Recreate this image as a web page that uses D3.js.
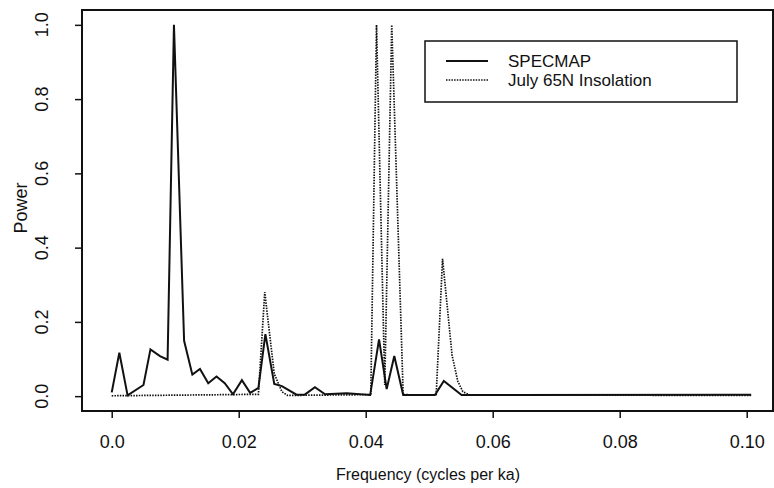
<!DOCTYPE html>
<html>
<head>
<meta charset="utf-8">
<script src="https://cdn.jsdelivr.net/npm/d3@7"></script>
<style>
  body { margin: 0; background: #fff; }
  text { font-family: "Liberation Sans", Arial, Helvetica, sans-serif; fill: #111; }
</style>
</head>
<body>
<svg id="chart" width="774" height="488"></svg>
<script>
// Data ////////////////////////////////////////////////////////////////////
// SPECMAP power spectrum (solid line)
const specmapFreq = [
  0.0000, 0.0012, 0.0025, 0.0050, 0.0061, 0.0076, 0.0088, 0.0098,
  0.0114, 0.0127, 0.0139, 0.0152, 0.0165, 0.0178, 0.0191, 0.0205,
  0.0218, 0.0231, 0.0242, 0.0256, 0.0268, 0.0291, 0.0304, 0.0320,
  0.0336, 0.0370, 0.0407, 0.0421, 0.0433, 0.0445, 0.0459, 0.0509,
  0.0523, 0.0551, 0.1007
];
const specmapPower = [
  0.010, 0.117, 0.002, 0.030, 0.126, 0.108, 0.098, 1.000,
  0.149, 0.058, 0.073, 0.035, 0.053, 0.035, 0.005, 0.043,
  0.009, 0.022, 0.167, 0.033, 0.027, 0.004, 0.004, 0.024,
  0.005, 0.008, 0.003, 0.153, 0.019, 0.108, 0.003, 0.003,
  0.041, 0.003, 0.004
];

// July 65N insolation power spectrum (dotted line)
const insolFreq = [
  0.0000, 0.0180, 0.0231, 0.0241, 0.0256, 0.0268, 0.0277, 0.0405,
  0.0408, 0.0417, 0.0430, 0.0441, 0.0459, 0.0508, 0.0511, 0.0521,
  0.0536, 0.0545, 0.0553, 0.0564, 0.1007
];
const insolPower = [
  0.001, 0.004, 0.005, 0.280, 0.060, 0.012, 0.002, 0.004,
  0.006, 1.000, 0.030, 1.000, 0.004, 0.003, 0.004, 0.370,
  0.110, 0.040, 0.012, 0.003, 0.002
];

// Axis ticks
const xTickValues = [0, 0.02, 0.04, 0.06, 0.08, 0.10];
const xTickLabels = ['0.0', '0.02', '0.04', '0.06', '0.08', '0.10'];
const yTickValues = [0, 0.2, 0.4, 0.6, 0.8, 1.0];
const yTickLabels = ['0.0', '0.2', '0.4', '0.6', '0.8', '1.0'];

const legendLabels = ['SPECMAP', 'July 65N Insolation'];

// Chart ///////////////////////////////////////////////////////////////////
const box = {left: 82, right: 773, top: 10, bottom: 411};
const svg = d3.select('#chart');

// R style: 4% padding around the data range
const x = d3.scaleLinear()
  .domain([-0.00468, 0.10414])
  .range([box.left, box.right]);
const y = d3.scaleLinear()
  .domain([-0.04, 1.04])
  .range([box.bottom, box.top]);

// x axis
const xAxis = svg.append('g')
  .attr('transform', `translate(0,${box.bottom})`)
  .call(d3.axisBottom(x)
    .tickValues(xTickValues)
    .tickFormat((d, i) => xTickLabels[i])
    .tickSize(7)
    .tickPadding(17));
xAxis.select('.domain').remove();
xAxis.selectAll('line').attr('stroke', '#111').attr('stroke-width', 1.5);
xAxis.selectAll('text')
  .attr('font-size', 18)
  .attr('font-family', '"Liberation Sans", Arial, sans-serif')
  .attr('fill', '#111');

// y axis (labels rotated like base R)
const yAxis = svg.append('g')
  .attr('transform', `translate(${box.left},0)`)
  .call(d3.axisLeft(y)
    .tickValues(yTickValues)
    .tickFormat('')
    .tickSize(7));
yAxis.select('.domain').remove();
yAxis.selectAll('line').attr('stroke', '#111').attr('stroke-width', 1.5);
svg.append('g').selectAll('text')
  .data(yTickValues)
  .enter().append('text')
  .attr('transform', (d, i) => `translate(48,${y(d)}) rotate(-90)`)
  .attr('text-anchor', 'middle')
  .attr('font-size', 18)
  .text((d, i) => yTickLabels[i]);

// axis titles
svg.append('text')
  .attr('x', 428)
  .attr('y', 480)
  .attr('text-anchor', 'middle')
  .attr('font-size', 16)
  .text('Frequency (cycles per ka)');
svg.append('text')
  .attr('transform', `translate(27,208) rotate(-90)`)
  .attr('text-anchor', 'middle')
  .attr('font-size', 18)
  .text('Power');

// lines
const line = d3.line()
  .x(d => x(d[0]))
  .y(d => y(d[1]));

svg.append('path')
  .datum(d3.zip(insolFreq, insolPower))
  .attr('fill', 'none')
  .attr('stroke', '#111')
  .attr('stroke-width', 1.7)
  .attr('stroke-dasharray', '1.5,1.2')
  .attr('d', line);

svg.append('path')
  .datum(d3.zip(specmapFreq, specmapPower))
  .attr('fill', 'none')
  .attr('stroke', '#111')
  .attr('stroke-width', 2)
  .attr('stroke-linejoin', 'miter')
  .attr('d', line);

// plot box
svg.append('rect')
  .attr('x', box.left)
  .attr('y', box.top)
  .attr('width', box.right - box.left)
  .attr('height', box.bottom - box.top)
  .attr('fill', 'none')
  .attr('stroke', '#111')
  .attr('stroke-width', 2);

// legend
const legend = svg.append('g');
legend.append('rect')
  .attr('x', 425).attr('y', 41)
  .attr('width', 312).attr('height', 61)
  .attr('fill', '#fff')
  .attr('stroke', '#111')
  .attr('stroke-width', 1.5);
legend.selectAll('line')
  .data(legendLabels)
  .enter().append('line')
  .attr('x1', 446).attr('x2', 488)
  .attr('y1', (d, i) => 61 + i * 19)
  .attr('y2', (d, i) => 61 + i * 19)
  .attr('stroke', '#111')
  .attr('stroke-width', (d, i) => i === 0 ? 1.8 : 1.4)
  .attr('stroke-dasharray', (d, i) => i === 0 ? null : '1.5,1.2');
legend.selectAll('text')
  .data(legendLabels)
  .enter().append('text')
  .attr('x', 508)
  .attr('y', (d, i) => 67 + i * 19)
  .attr('font-size', 17)
  .text(d => d);
</script>
</body>
</html>
